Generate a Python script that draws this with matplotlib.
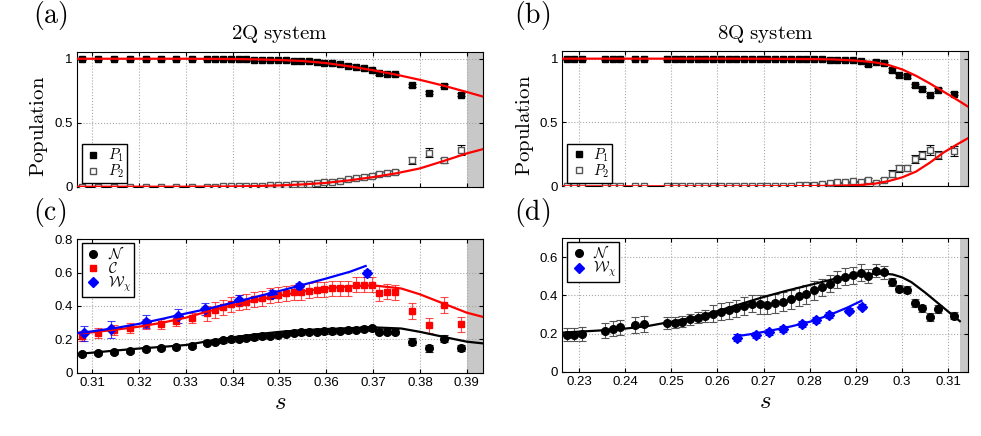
import numpy as np
import matplotlib
matplotlib.use('Agg')
import matplotlib.pyplot as plt
from matplotlib.lines import Line2D
from matplotlib.ticker import FormatStrFormatter

plt.rcParams['mathtext.fontset'] = 'cm'
plt.rcParams['font.family'] = ['Liberation Sans', 'DejaVu Sans']

# ---------------- 2Q system data ----------------
s2 = [0.3079, 0.3112, 0.3146, 0.3180, 0.3214, 0.3247, 0.3280, 0.3314,
      0.3346, 0.3363, 0.3379, 0.3396, 0.3413, 0.3429, 0.3446, 0.3463, 0.3480, 0.3496,
      0.3513, 0.3530, 0.3546, 0.3563, 0.3580, 0.3596, 0.3613, 0.3630, 0.3647, 0.3663,
      0.3680, 0.3697, 0.3713, 0.3730, 0.3747,
      0.3784, 0.3819, 0.3851, 0.3887]
p1_2q = [0.998, 0.998, 0.998, 0.998, 0.998, 0.998, 0.998, 0.998,
         0.998, 0.998, 0.997, 0.996, 0.995, 0.995, 0.994, 0.993, 0.991, 0.990,
         0.988, 0.985, 0.984, 0.980, 0.975, 0.970, 0.964, 0.955, 0.945, 0.935,
         0.925, 0.912, 0.885, 0.882, 0.877,
         0.792, 0.736, 0.790, 0.720]
p1_2q_err = [0.008] * 8 + [0.008] * 14 + [0.010] * 8 + [0.012] * 3 + [0.012, 0.012, 0.012, 0.014]
p2_2q = [0.0, 0.0, 0.0, 0.0, 0.0, 0.0, 0.0, 0.0,
         0.001, 0.001, 0.002, 0.002, 0.003, 0.004, 0.006, 0.008, 0.010, 0.012,
         0.015, 0.019, 0.022, 0.024, 0.028, 0.034, 0.040, 0.048, 0.057, 0.066,
         0.076, 0.085, 0.100, 0.108, 0.115,
         0.205, 0.265, 0.205, 0.285]
p2_2q_err = [0.005] * 8 + [0.006] * 14 + [0.010] * 6 + [0.015] * 5 + [0.030, 0.035, 0.022, 0.040]

n_2q = [0.112, 0.120, 0.126, 0.132, 0.140, 0.146, 0.154, 0.162,
        0.180, 0.185, 0.195, 0.200, 0.205, 0.210, 0.213, 0.218, 0.222, 0.228,
        0.235, 0.240, 0.242, 0.245, 0.245, 0.248, 0.250, 0.252, 0.255, 0.258,
        0.265, 0.268, 0.245, 0.245, 0.245,
        0.186, 0.146, 0.204, 0.148]
n_2q_err = [0.012] * 8 + [0.015] * 25 + [0.020] * 4
c_2q = [0.222, 0.236, 0.255, 0.267, 0.290, 0.290, 0.310, 0.328,
        0.356, 0.376, 0.392, 0.410, 0.420, 0.426, 0.440, 0.446, 0.460, 0.466,
        0.476, 0.482, 0.482, 0.492, 0.496, 0.500, 0.506, 0.506, 0.506, 0.526,
        0.526, 0.526, 0.476, 0.486, 0.482,
        0.370, 0.286, 0.406, 0.292]
c_2q_err = [0.030] * 8 + [0.045] * 25 + [0.045] * 4
sw_2q = [0.3082, 0.3141, 0.3214, 0.3283, 0.3342, 0.3413, 0.3485, 0.3542, 0.3686]
w_2q = [0.236, 0.260, 0.306, 0.340, 0.382, 0.436, 0.470, 0.520, 0.596]
w_2q_err = [0.045, 0.050, 0.040, 0.040, 0.035, 0.030, 0.025, 0.020, 0.020]

# theory curves (2Q)
st_p_2q = [0.3067, 0.33, 0.34, 0.345, 0.35, 0.355, 0.36, 0.365, 0.37, 0.375, 0.38, 0.385, 0.39, 0.3934]
p1_th_2q = [1.0, 1.0, 0.998, 0.995, 0.99, 0.982, 0.966, 0.94, 0.91, 0.875, 0.835, 0.79, 0.74, 0.705]
p2_th_2q = [0.0, 0.0, 0.002, 0.005, 0.01, 0.018, 0.03, 0.05, 0.075, 0.105, 0.143, 0.2, 0.26, 0.293]
st_n_2q = [0.3067, 0.31, 0.315, 0.32, 0.325, 0.33, 0.335, 0.34, 0.345, 0.35, 0.355, 0.36,
           0.365, 0.37, 0.376, 0.38, 0.385, 0.39, 0.3934]
n_th_2q = [0.112, 0.12, 0.133, 0.145, 0.155, 0.166, 0.19, 0.212, 0.23, 0.245, 0.255, 0.262,
           0.267, 0.272, 0.265, 0.245, 0.215, 0.186, 0.176]
c_th_2q = [0.235, 0.242, 0.258, 0.276, 0.30, 0.33, 0.37, 0.405, 0.435, 0.462, 0.487, 0.506,
           0.518, 0.524, 0.505, 0.47, 0.415, 0.36, 0.335]
st_w_2q = [0.3067, 0.31, 0.315, 0.32, 0.325, 0.33, 0.335, 0.34, 0.345, 0.35, 0.355, 0.36, 0.365, 0.3684]
w_th_2q = [0.237, 0.248, 0.268, 0.293, 0.323, 0.355, 0.385, 0.42, 0.455, 0.49, 0.527, 0.565, 0.605, 0.64]

# ---------------- 8Q system data ----------------
s8 = [0.2274, 0.2290, 0.2306, 0.2357, 0.2373, 0.2389, 0.2422, 0.2440,
      0.2490, 0.2507, 0.2524, 0.2540, 0.2557, 0.2574, 0.2591, 0.2608, 0.2624, 0.2641,
      0.2658, 0.2675, 0.2692, 0.2708, 0.2725, 0.2742, 0.2759, 0.2776, 0.2792, 0.2809,
      0.2826, 0.2843, 0.2860, 0.2876, 0.2893, 0.2910, 0.2927, 0.2944, 0.2960, 0.2977,
      0.2994, 0.3011, 0.3028, 0.3044, 0.3061, 0.3078,
      0.3112]
p1_8q = [0.998] * 8 + [0.998] * 10 + [0.997] * 6 + [
         0.996, 0.995, 0.995, 0.994, 0.993, 0.990, 0.990, 0.987, 0.985, 0.980,
         0.955, 0.975, 0.962, 0.910, 0.870, 0.862, 0.790, 0.760, 0.717, 0.757,
         0.725]
p1_8q_err = [0.008] * 34 + [0.015, 0.010, 0.010] + [0.012] * 7 + [0.012]
p2_8q = [0.0] * 8 + [0.0] * 14 + [
         0.002, 0.003, 0.005, 0.007, 0.010, 0.013, 0.020, 0.025, 0.030, 0.033,
         0.038, 0.034, 0.050, 0.028, 0.050, 0.100, 0.140, 0.143, 0.215, 0.245,
         0.285, 0.245, 0.278]
p2_8q_err = [0.004] * 34 + [0.015, 0.008, 0.012, 0.025, 0.025, 0.025, 0.030, 0.030, 0.040, 0.030, 0.040]

n_8q = [0.195, 0.195, 0.198, 0.216, 0.225, 0.232, 0.245, 0.250,
        0.256, 0.258, 0.263, 0.274, 0.283, 0.293, 0.305, 0.314, 0.322, 0.332,
        0.345, 0.356, 0.354, 0.351, 0.360, 0.368, 0.381, 0.395, 0.407, 0.427,
        0.442, 0.462, 0.484, 0.498, 0.507, 0.520, 0.503, 0.530, 0.521, 0.470,
        0.436, 0.431, 0.362, 0.332, 0.287, 0.330,
        0.294]
n_8q_err = [0.035] * 3 + [0.040] * 5 + [0.030] * 6 + [0.045] * 6 + [0.050] * 8 + \
           [0.045] * 6 + [0.035] * 3 + [0.020] * 8
sw_8q = [0.2642, 0.2683, 0.2712, 0.2741, 0.2784, 0.2813, 0.2842, 0.2884, 0.2912]
w_8q = [0.179, 0.191, 0.209, 0.225, 0.249, 0.272, 0.298, 0.321, 0.342]
w_8q_err = [0.020, 0.015, 0.015, 0.015, 0.015, 0.015, 0.015, 0.015, 0.015]

# theory curves (8Q)
st_p_8q = [0.2264, 0.26, 0.27, 0.275, 0.28, 0.285, 0.29, 0.294, 0.297, 0.30, 0.303, 0.306, 0.309, 0.312, 0.3142]
p1_th_8q = [0.999, 0.999, 0.998, 0.997, 0.996, 0.993, 0.984, 0.97, 0.95, 0.915, 0.865, 0.805, 0.74, 0.675, 0.625]
p2_th_8q = [0.0, 0.0, 0.0005, 0.001, 0.002, 0.004, 0.008, 0.02, 0.04, 0.07, 0.115, 0.185, 0.265, 0.33, 0.375]
st_n_8q = [0.2264, 0.23, 0.235, 0.24, 0.245, 0.25, 0.255, 0.26, 0.265, 0.27, 0.275, 0.28, 0.285,
           0.29, 0.293, 0.296, 0.298, 0.30, 0.302, 0.305, 0.308, 0.311, 0.3125]
n_th_8q = [0.205, 0.21, 0.217, 0.226, 0.24, 0.262, 0.285, 0.318, 0.355, 0.392, 0.425, 0.455, 0.485,
           0.505, 0.513, 0.515, 0.51, 0.495, 0.47, 0.415, 0.355, 0.295, 0.265]
st_w_8q = [0.2642, 0.268, 0.272, 0.276, 0.28, 0.284, 0.288, 0.2912]
w_th_8q = [0.186, 0.20, 0.218, 0.238, 0.262, 0.295, 0.335, 0.372]

# ---------------- figure ----------------
W, H = 981, 436
fig = plt.figure(figsize=(W / 100, H / 100), dpi=100)
ax_a = fig.add_axes([76.7 / W, (H - 186.7) / H, 406 / W, 135 / H])
ax_b = fig.add_axes([562.3 / W, (H - 186.3) / H, 405.4 / W, 134.8 / H])
ax_c = fig.add_axes([76.7 / W, (H - 372.7) / H, 406 / W, 133.4 / H])
ax_d = fig.add_axes([562.3 / W, (H - 371.7) / H, 405.4 / W, 133.4 / H])

gray = '#c8c8c8'


def style(ax, xlim, xticks, ylim, yticks, band, xlabels=True):
    ax.set_xlim(xlim)
    ax.set_ylim(ylim)
    ax.set_xticks(xticks)
    ax.set_yticks(yticks)
    ax.axvspan(band, xlim[1], color=gray, lw=0, zorder=0.5)
    ax.grid(True, ls=':', color='#a8a8a8', lw=0.8)
    ax.set_axisbelow(True)
    ax.tick_params(direction='in', length=3, top=True, right=True, labelsize=9.5, pad=3)
    ax.xaxis.set_major_formatter(FormatStrFormatter('%g'))
    ax.yaxis.set_major_formatter(FormatStrFormatter('%g'))
    if not xlabels:
        ax.set_xticklabels([])
    for sp in ax.spines.values():
        sp.set_linewidth(0.8)


def points(ax, x, y, err, fmt, mfc, mec, ms, ecolor, ealpha=1.0):
    eb = ax.errorbar(x, y, yerr=err, fmt=fmt, mfc=mfc, mec=mec, ms=ms, ecolor=ecolor,
                     elinewidth=0.8, capsize=3, capthick=0.8, zorder=3)
    for part in eb[1] + eb[2]:
        part.set_alpha(ealpha)
    return eb


def key(marker, mfc, mec, ms, label):
    return Line2D([], [], ls='none', marker=marker, mfc=mfc, mec=mec, ms=ms, label=label)


def legend(ax, handles, loc, anchor):
    ax.legend(handles=handles, loc=loc, bbox_to_anchor=anchor, borderaxespad=0, fontsize=10.5,
              fancybox=False, edgecolor='black', framealpha=1, handlelength=1.2,
              handletextpad=0.4, borderpad=0.2, labelspacing=-0.1)


p_keys = [key('s', 'black', 'black', 4.5, '$P_1$'), key('s', 'white', '#555555', 4.5, '$P_2$')]

# (a) 2Q populations
ax = ax_a
points(ax, s2, p1_2q, p1_2q_err, 's', 'black', 'black', 4.5, 'black')
points(ax, s2, p2_2q, p2_2q_err, 's', 'white', '#555555', 4.5, 'black')
ax.plot(st_p_2q, p1_th_2q, color='red', lw=1.6, zorder=4)
ax.plot(st_p_2q, p2_th_2q, color='red', lw=1.6, zorder=4)
style(ax, (0.3067, 0.3934), [0.31, 0.32, 0.33, 0.34, 0.35, 0.36, 0.37, 0.38, 0.39],
      (0, 1.055), [0, 0.5, 1], 0.39, xlabels=False)
ax.set_ylabel(r'$\mathrm{Population}$', fontsize=15)
ax.yaxis.set_label_coords(-0.065, 0.45)
legend(ax, p_keys, 'lower left', (0.012, 0.025))
ax.set_title(r'$\mathrm{2Q\ system}$', fontsize=15, pad=9)

# (b) 8Q populations
ax = ax_b
points(ax, s8, p1_8q, p1_8q_err, 's', 'black', 'black', 4.5, 'black')
points(ax, s8, p2_8q, p2_8q_err, 's', 'white', '#555555', 4.5, 'black')
ax.plot(st_p_8q, p1_th_8q, color='red', lw=1.6, zorder=4)
ax.plot(st_p_8q, p2_th_8q, color='red', lw=1.6, zorder=4)
style(ax, (0.2264, 0.3142), [0.23, 0.24, 0.25, 0.26, 0.27, 0.28, 0.29, 0.30, 0.31],
      (0, 1.055), [0, 0.5, 1], 0.3125, xlabels=False)
ax.set_ylabel(r'$\mathrm{Population}$', fontsize=15)
ax.yaxis.set_label_coords(-0.065, 0.45)
legend(ax, p_keys, 'lower left', (0.012, 0.025))
ax.set_title(r'$\mathrm{8Q\ system}$', fontsize=15, pad=9)

# (c) 2Q entanglement measures
ax = ax_c
points(ax, s2, n_2q, n_2q_err, 'o', 'black', 'black', 5.5, '#222222')
points(ax, s2, c_2q, c_2q_err, 's', 'red', 'red', 4.5, 'red', ealpha=0.7)
points(ax, sw_2q, w_2q, w_2q_err, 'D', 'blue', 'blue', 5, 'blue', ealpha=0.75)
ax.plot(st_n_2q, n_th_2q, color='black', lw=1.6, zorder=4)
ax.plot(st_n_2q, c_th_2q, color='red', lw=1.6, zorder=4)
ax.plot(st_w_2q, w_th_2q, color='blue', lw=1.6, zorder=4)
style(ax, (0.3067, 0.3934), [0.31, 0.32, 0.33, 0.34, 0.35, 0.36, 0.37, 0.38, 0.39],
      (0, 0.8), [0, 0.2, 0.4, 0.6, 0.8], 0.39)
ax.set_xlabel('$s$', fontsize=18, labelpad=1)
legend(ax, [key('o', 'black', 'black', 5.5, r'$\mathcal{N}$'),
            key('s', 'red', 'red', 4.5, r'$\mathcal{C}$'),
            key('D', 'blue', 'blue', 5, r'$\mathcal{W}_\chi$')],
       'upper left', (0.012, 0.975))

# (d) 8Q entanglement measures
ax = ax_d
points(ax, s8, n_8q, n_8q_err, 'o', 'black', 'black', 5.5, '#555555')
points(ax, sw_8q, w_8q, w_8q_err, 'D', 'blue', 'blue', 5, 'blue')
ax.plot(st_n_8q, n_th_8q, color='black', lw=1.6, zorder=4)
ax.plot(st_w_8q, w_th_8q, color='blue', lw=1.6, zorder=4)
style(ax, (0.2264, 0.3142), [0.23, 0.24, 0.25, 0.26, 0.27, 0.28, 0.29, 0.30, 0.31],
      (0, 0.7), [0, 0.2, 0.4, 0.6], 0.3125)
ax.set_xlabel('$s$', fontsize=18, labelpad=1)
legend(ax, [key('o', 'black', 'black', 5.5, r'$\mathcal{N}$'),
            key('D', 'blue', 'blue', 5, r'$\mathcal{W}_\chi$')],
       'upper left', (0.012, 0.975))

# panel tags
for tag, x, y in [('(a)', 33, 15), ('(b)', 514, 15), ('(c)', 33, 212), ('(d)', 514, 212)]:
    fig.text(x / W, 1 - y / H, r'$\mathrm{' + tag + '}$', fontsize=20, ha='left', va='center')

fig.savefig('out.png', dpi=100)
